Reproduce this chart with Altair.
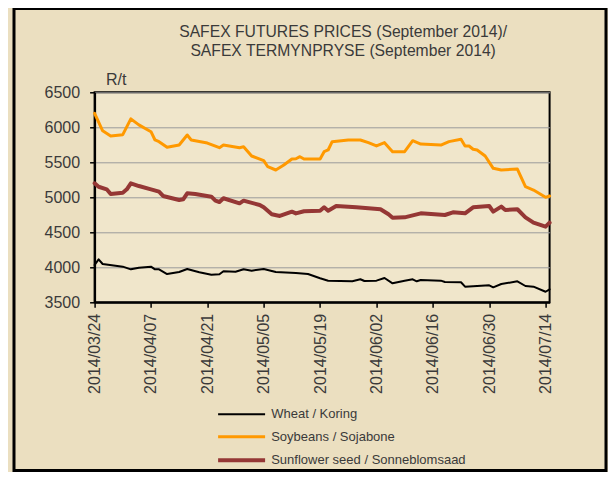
import altair as alt
import pandas as pd

tick_labels = ["2014/03/24", "2014/04/07", "2014/04/21", "2014/05/05", "2014/05/19",
               "2014/06/02", "2014/06/16", "2014/06/30", "2014/07/14"]
y_ticks = [3500, 4000, 4500, 5000, 5500, 6000, 6500]
series_names = ["Wheat / Koring", "Soybeans / Sojabone", "Sunflower seed / Sonneblomsaad"]

wheat_dates = ["2014/03/24", "2014/03/25", "2014/03/26", "2014/03/31", "2014/04/02", "2014/04/04",
               "2014/04/07", "2014/04/08", "2014/04/09", "2014/04/11", "2014/04/14", "2014/04/16",
               "2014/04/19", "2014/04/22", "2014/04/24", "2014/04/25", "2014/04/28", "2014/04/30",
               "2014/05/02", "2014/05/05", "2014/05/08", "2014/05/13", "2014/05/16", "2014/05/19",
               "2014/05/21", "2014/05/27", "2014/05/29", "2014/05/30", "2014/06/02", "2014/06/04",
               "2014/06/06", "2014/06/09", "2014/06/11", "2014/06/12", "2014/06/13", "2014/06/18",
               "2014/06/19", "2014/06/23", "2014/06/24", "2014/06/28", "2014/06/30", "2014/07/01",
               "2014/07/03", "2014/07/07", "2014/07/09", "2014/07/11", "2014/07/14", "2014/07/15"]
wheat_values = [4033, 4114, 4047, 4009, 3971, 3995,
                4009, 3971, 3971, 3904, 3933, 3976,
                3929, 3894, 3900, 3943, 3937, 3971,
                3952, 3976, 3933, 3919, 3904, 3843,
                3809, 3800, 3829, 3804, 3809, 3847,
                3771, 3809, 3829, 3800, 3819, 3809,
                3790, 3786, 3723, 3737, 3743, 3714,
                3761, 3800, 3733, 3723, 3651, 3686]

soy_dates = ["2014/03/24", "2014/03/26", "2014/03/28", "2014/03/31", "2014/04/02", "2014/04/04",
             "2014/04/07", "2014/04/08", "2014/04/09", "2014/04/11", "2014/04/14", "2014/04/16",
             "2014/04/17", "2014/04/21", "2014/04/24", "2014/04/25", "2014/04/29", "2014/04/30",
             "2014/05/02", "2014/05/05", "2014/05/06", "2014/05/08", "2014/05/10", "2014/05/12",
             "2014/05/13", "2014/05/14", "2014/05/15", "2014/05/19", "2014/05/20", "2014/05/21",
             "2014/05/22", "2014/05/26", "2014/05/29", "2014/05/31", "2014/06/02", "2014/06/04",
             "2014/06/06", "2014/06/09", "2014/06/11", "2014/06/13", "2014/06/18", "2014/06/20",
             "2014/06/23", "2014/06/24", "2014/06/25", "2014/06/26", "2014/06/27", "2014/06/29",
             "2014/07/01", "2014/07/03", "2014/07/07", "2014/07/09", "2014/07/11", "2014/07/14",
             "2014/07/15"]
soy_values = [6200, 5950, 5876, 5895, 6120, 6035,
              5937, 5819, 5795, 5714, 5747, 5890,
              5819, 5775, 5709, 5747, 5709, 5723,
              5590, 5523, 5437, 5390, 5461, 5547,
              5551, 5580, 5547, 5547, 5652, 5676,
              5795, 5819, 5819, 5781, 5733, 5781,
              5652, 5652, 5809, 5761, 5747, 5795,
              5829, 5733, 5733, 5686, 5676, 5590,
              5414, 5390, 5404, 5151, 5104, 5000,
              5019]

sun_dates = ["2014/03/24", "2014/03/25", "2014/03/27", "2014/03/28", "2014/03/31", "2014/04/01",
             "2014/04/02", "2014/04/04", "2014/04/07", "2014/04/09", "2014/04/10", "2014/04/14",
             "2014/04/15", "2014/04/16", "2014/04/18", "2014/04/22", "2014/04/23", "2014/04/24",
             "2014/04/25", "2014/04/29", "2014/04/30", "2014/05/04", "2014/05/05", "2014/05/07",
             "2014/05/09", "2014/05/12", "2014/05/13", "2014/05/15", "2014/05/19", "2014/05/20",
             "2014/05/21", "2014/05/23", "2014/05/28", "2014/06/03", "2014/06/05", "2014/06/06",
             "2014/06/09", "2014/06/13", "2014/06/19", "2014/06/21", "2014/06/24", "2014/06/26",
             "2014/06/30", "2014/07/01", "2014/07/03", "2014/07/04", "2014/07/07", "2014/07/09",
             "2014/07/11", "2014/07/14", "2014/07/15"]
sun_values = [5200, 5151, 5114, 5047, 5066, 5114,
              5200, 5161, 5114, 5080, 5019, 4961,
              4971, 5057, 5047, 5009, 4952, 4933,
              4986, 4914, 4952, 4890, 4857, 4757,
              4733, 4795, 4770, 4800, 4809, 4857,
              4809, 4876, 4857, 4829, 4757, 4709,
              4714, 4771, 4747, 4786, 4771, 4857,
              4876, 4795, 4867, 4819, 4829, 4714,
              4638, 4581, 4638]

rows = []
for name, ds, vs in zip(series_names, [wheat_dates, soy_dates, sun_dates],
                        [wheat_values, soy_values, sun_values]):
    for d, v in zip(ds, vs):
        rows.append({"date": d, "price": v, "series": name})
df = pd.DataFrame(rows)


def dt(s):
    y, m, d = s.split("/")
    return alt.DateTime(year=int(y), month=int(m), date=int(d))


FONT = "Liberation Sans, Arial, sans-serif"
TEXT = "#3a3a3a"
W, H = 455, 210
PL, PT = 86.6, 84.3

legend_kw = dict(title=None, orient="none", legendX=139, legendY=315, padding=0,
                 symbolType="M-4,0H4", symbolSize=138, labelOffset=21.6,
                 rowPadding=8, labelFontSize=13, labelColor=TEXT,
                 labelFont=FONT, labelLimit=400)

lines = alt.Chart(df).mark_line(strokeJoin="round", strokeCap="round").encode(
    x=alt.X("date:T",
            scale=alt.Scale(domain=[dt("2014/03/24"), dt("2014/07/15")], nice=False),
            axis=alt.Axis(values=[dt(s) for s in tick_labels], format="%Y/%m/%d",
                          labelAngle=270, labelAlign="right", labelBaseline="middle",
                          labelPadding=6, tickSize=5, grid=False, title=None,
                          labelFlush=False, labelOverlap=False)),
    y=alt.Y("price:Q",
            scale=alt.Scale(domain=[3500, 6500], nice=False, zero=False),
            axis=alt.Axis(values=y_ticks, format="d", tickSize=5, labelPadding=10, grid=True,
                          gridColor="#9a9a9a", gridWidth=1, title="R/t", titleAngle=0,
                          titleAlign="center", titleBaseline="middle", titleX=21, titleY=-13,
                          titleFontWeight="normal", labelFlush=False)),
    color=alt.Color("series:N",
                    scale=alt.Scale(domain=series_names, range=["#000000", "#FF9900", "#953735"]),
                    legend=alt.Legend(**legend_kw)),
    strokeWidth=alt.StrokeWidth("series:N",
                                scale=alt.Scale(domain=series_names, range=[2, 4, 6]),
                                legend=alt.Legend(**legend_kw)),
)

frame_df = pd.DataFrame({"k": [0]})
frame = alt.Chart(frame_df).mark_rect(fill=None, stroke="#000000", strokeWidth=3).encode(
    x=alt.value(14 - 94.6), x2=alt.value(606 - 94.6),
    y=alt.value(8.5 - 92.3), y2=alt.value(470.5 - 92.3),
)

chart = alt.layer(frame, lines).properties(
    width=W, height=H,
    title=alt.Title(["SAFEX FUTURES PRICES (September 2014)/", "SAFEX TERMYNPRYSE (September 2014)"],
                    fontSize=15.7, fontWeight="normal", color=TEXT, font=FONT, anchor="middle",
                    frame="group", dx=21, dy=53, offset=0, lineHeight=19),
    autosize=alt.AutoSizeParams(type="none"),
    padding={"left": PL, "top": PT, "right": 600 - PL - W, "bottom": 464 - PT - H},
    background="#EBDFC0",
).configure_view(
    stroke="#000000", strokeWidth=2, fill="#F0E6CB"
).configure_axis(
    domainColor="#000000", domainWidth=2, tickColor="#000000", tickWidth=1.5,
    labelFont=FONT, labelFontSize=16, labelColor=TEXT, titleFont=FONT, titleFontSize=16,
    titleColor=TEXT
)

chart.save("out.html", embed_options={"renderer": "svg", "actions": False})
